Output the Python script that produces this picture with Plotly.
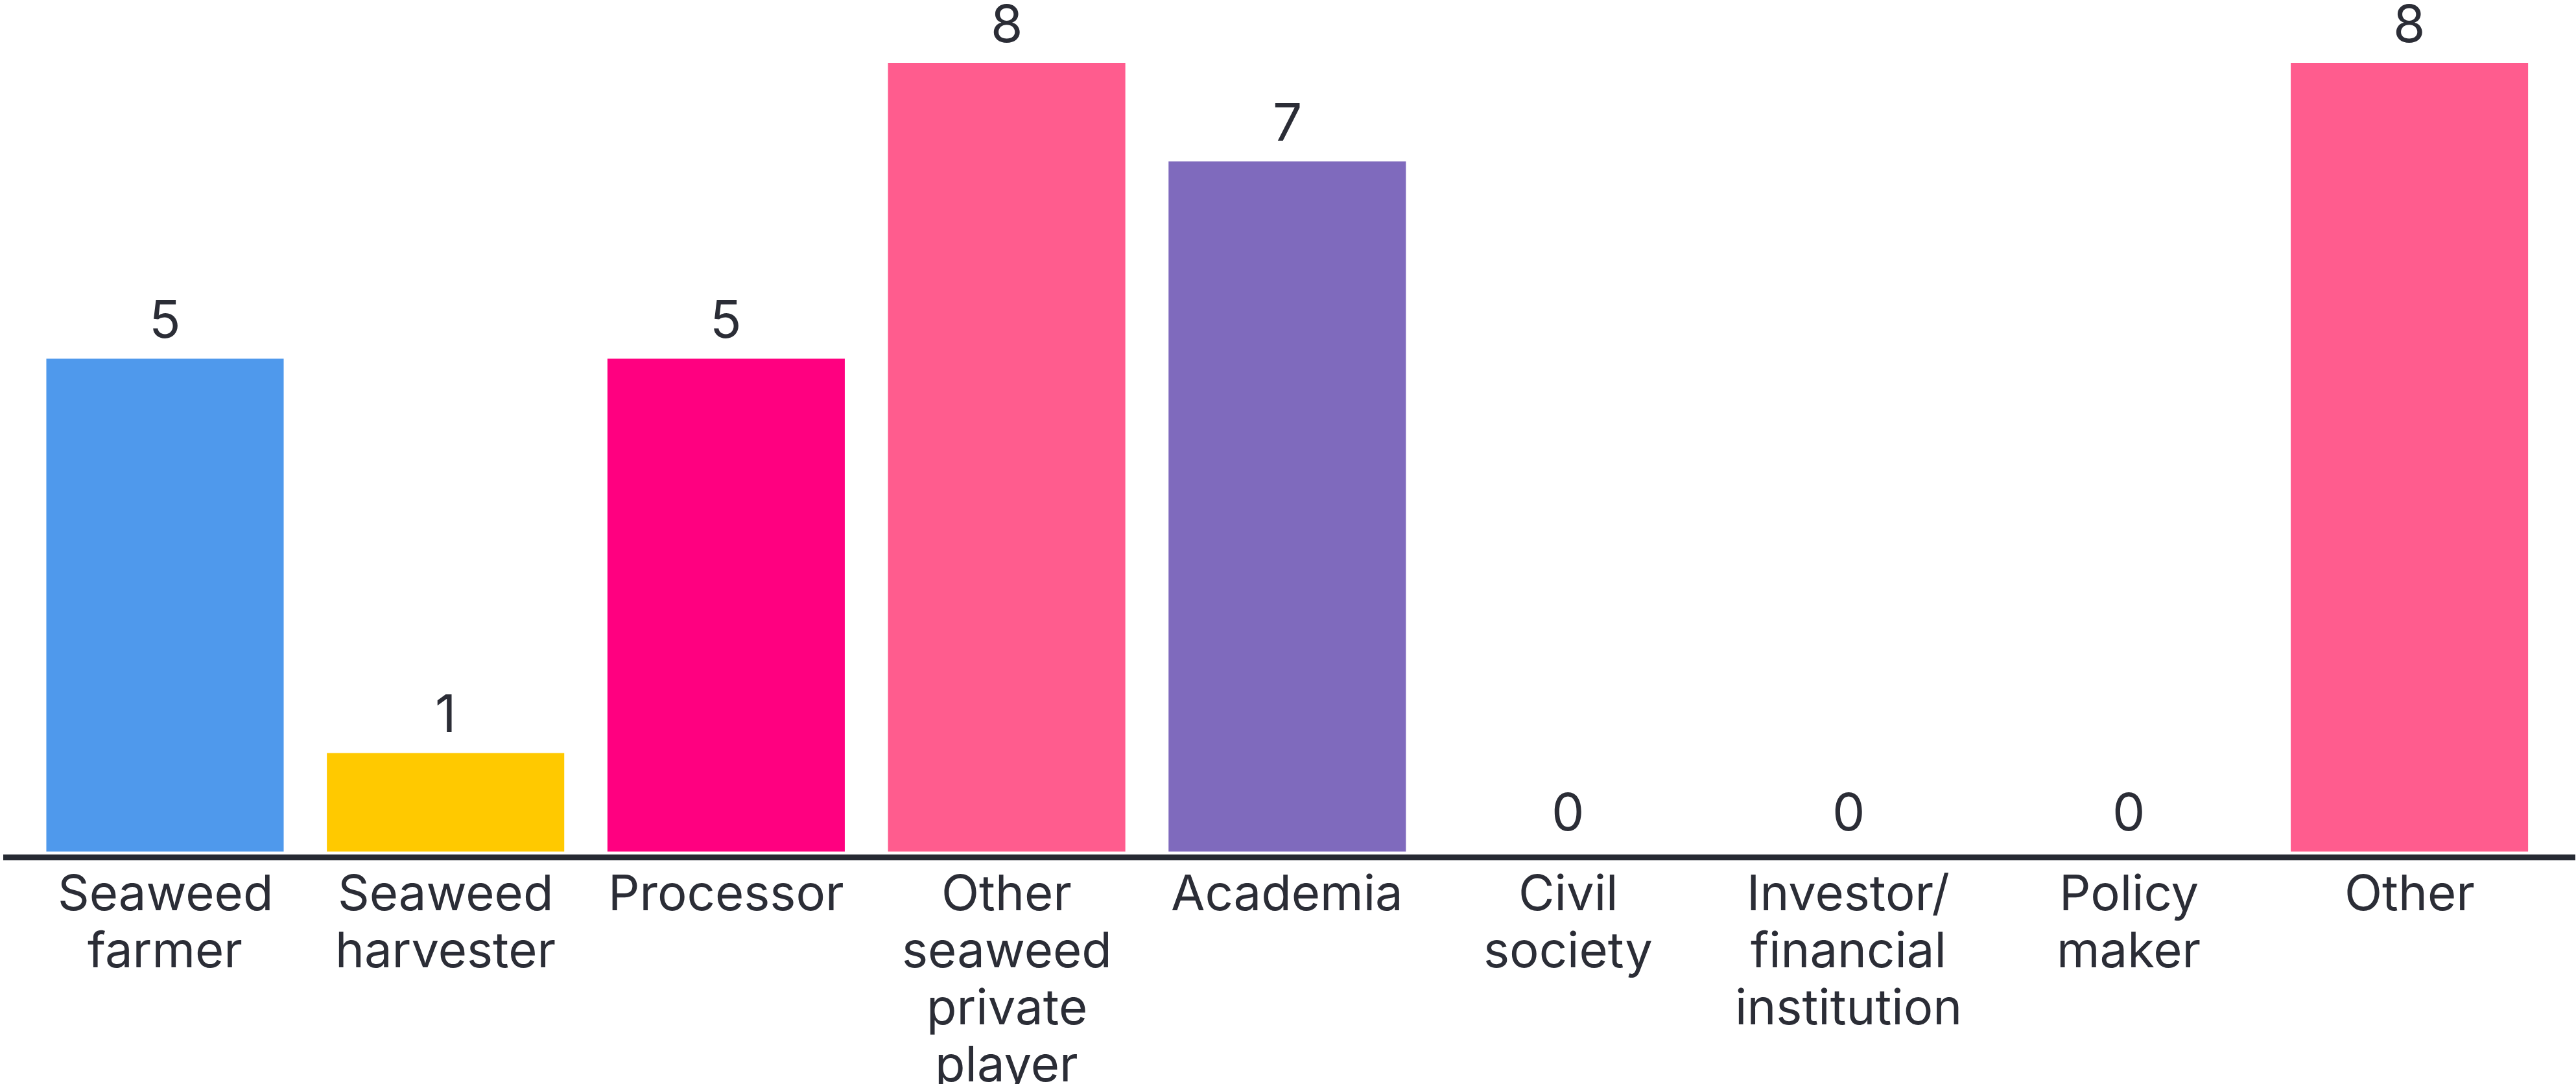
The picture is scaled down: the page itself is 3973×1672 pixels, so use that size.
import plotly.graph_objects as go

categories = ["Seaweed farmer", "Seaweed harvester", "Processor",
              "Other seaweed private player", "Academia", "Civil society",
              "Investor/ financial institution", "Policy maker", "Other"]
tick_labels = ["Seaweed<br>farmer", "Seaweed<br>harvester", "Processor",
               "Other<br>seaweed<br>private<br>player", "Academia", "Civil<br>society",
               "Investor/<br>financial<br>institution", "Policy<br>maker", "Other"]
values = [5, 1, 5, 8, 7, 0, 0, 0, 8]
colors = ["#4F99EC", "#FFC900", "#FF0080", "#FF5C8E", "#7F6ABD",
          "#FF5C8E", "#FF5C8E", "#FF5C8E", "#FF5C8E"]

TEXT = "#2B2D36"
FONT = "Inter"
W, H = 3973, 1672
PLOT_BOTTOM = 1318  # pixel row of the plot bottom

fig = go.Figure()
fig.add_trace(go.Bar(
    x=categories, y=values,
    marker=dict(color=colors, line=dict(width=0)),
    cliponaxis=False,
    hoverinfo="skip",
))

annotations = []
# value labels above the bars
for cat, v in zip(categories, values):
    annotations.append(dict(
        x=cat, xref="x", y=v, yref="y",
        yshift=62, text=str(v), showarrow=False,
        xanchor="center", yanchor="middle",
        font=dict(family=FONT, size=80, color=TEXT),
    ))

# category labels, one annotation per text line
for cat, lab in zip(categories, tick_labels):
    for k, line in enumerate(lab.split("<br>")):
        baseline = 1403 + 88 * k
        center = baseline - 27
        annotations.append(dict(
            x=cat, xref="x", y=0, yref="paper",
            yshift=-(center - PLOT_BOTTOM),
            text=line, showarrow=False,
            xanchor="center", yanchor="middle",
            font=dict(family=FONT, size=76, color=TEXT),
        ))

fig.update_layout(
    width=W, height=H,
    margin=dict(l=5, r=1, t=0, b=H - PLOT_BOTTOM, pad=0),
    paper_bgcolor="white", plot_bgcolor="white",
    showlegend=False,
    bargap=0.154,
    annotations=annotations,
    xaxis=dict(type="category", range=[-0.5766, 8.5914],
               showline=True, linecolor="#262A33", linewidth=9,
               showticklabels=False, ticks="", showgrid=False, zeroline=False),
    yaxis=dict(range=[-0.0296, 8.638], visible=False, showgrid=False, zeroline=False),
)

fig.write_html("out.html",
               config={"displayModeBar": False, "staticPlot": True},
               post_script="document.body.style.margin='0';document.body.style.overflow='hidden';")
